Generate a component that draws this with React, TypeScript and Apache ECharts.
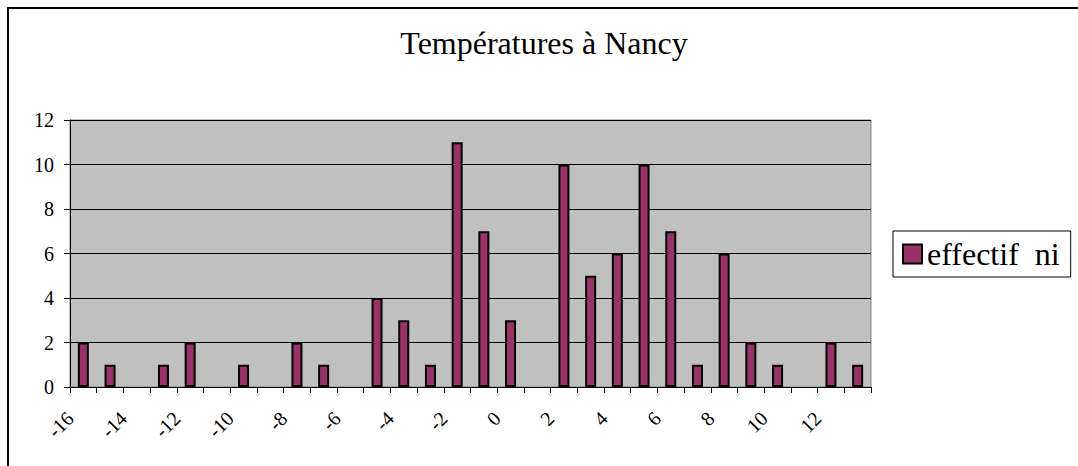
import React, { useEffect, useRef } from "react";
import * as echarts from "echarts";

const categories: string[] = [
  "-16", "-15", "-14", "-13", "-12", "-11", "-10", "-9", "-8", "-7",
  "-6", "-5", "-4", "-3", "-2", "-1", "0", "1", "2", "3",
  "4", "5", "6", "7", "8", "9", "10", "11", "12", "13",
];
const effectif: number[] = [
  2, 1, 0, 1, 2, 0, 1, 0, 2, 1,
  0, 4, 3, 1, 11, 7, 3, 0, 10, 5,
  6, 10, 7, 1, 6, 2, 1, 0, 2, 1,
];
const xTickLabels: number[] = [-16, -14, -12, -10, -8, -6, -4, -2, 0, 2, 4, 6, 8, 10, 12];
const yTicks = { min: 0, max: 12, interval: 2 };
const titleText = "Températures à Nancy";
const seriesName = "effectif  ni";

const FONT = "Liberation Serif";

export default function App() {
  const ref = useRef<HTMLDivElement>(null);
  useEffect(() => {
    if (!ref.current) return;
    const chart = echarts.init(ref.current, undefined, { renderer: "svg" });
    chart.setOption({
      animation: false,
      backgroundColor: "#ffffff",
      graphic: [
        {
          type: "rect",
          shape: { x: 8, y: 8, width: 1300, height: 700 },
          style: { fill: "none", stroke: "#000", lineWidth: 2 },
          silent: true,
          z: 100,
        },
        {
          type: "text",
          x: 544,
          y: 43,
          style: {
            text: titleText,
            fontFamily: FONT,
            fontSize: 32,
            fill: "#000",
            align: "center",
            verticalAlign: "middle",
          },
        },
      ],
      legend: {
        show: true,
        left: 893,
        top: 231,
        orient: "vertical",
        backgroundColor: "#fff",
        borderColor: "#000",
        borderWidth: 1,
        padding: [7, 11, 7, 9],
        itemWidth: 19,
        itemHeight: 19,
        icon: "rect",
        textStyle: { fontFamily: FONT, fontSize: 32, color: "#000", lineHeight: 31 },
        data: [seriesName],
      },
      grid: {
        left: 70,
        top: 120,
        width: 801,
        height: 267,
        show: true,
        backgroundColor: "#c0c0c0",
        borderColor: "#808080",
        borderWidth: 1,
      },
      xAxis: [
        {
          type: "category",
          data: categories,
          boundaryGap: true,
          axisLine: { show: true, onZero: false, lineStyle: { color: "#000", width: 1 } },
          axisTick: { show: true, length: 6, lineStyle: { color: "#000" }, interval: 0 },
          axisLabel: { show: false },
          splitLine: { show: false },
        },
        {
          type: "value",
          min: -16,
          max: 14,
          interval: 2,
          position: "bottom",
          axisLine: { show: false, onZero: false },
          axisTick: { show: false },
          splitLine: { show: false },
          axisLabel: {
            rotate: 45,
            margin: 28,
            fontFamily: FONT,
            fontSize: 20,
            color: "#000",
            formatter: (v: number) => (xTickLabels.indexOf(v) >= 0 ? String(v) : ""),
          },
        },
      ],
      yAxis: {
        type: "value",
        min: yTicks.min,
        max: yTicks.max,
        interval: yTicks.interval,
        axisLine: { show: true, onZero: false, lineStyle: { color: "#000", width: 1 } },
        axisTick: { show: true, length: 6, lineStyle: { color: "#000" } },
        axisLabel: { fontFamily: FONT, fontSize: 20, color: "#000", margin: 16 },
        splitLine: { show: true, lineStyle: { color: "#000", width: 1 } },
      },
      series: [
        {
          name: seriesName,
          type: "bar",
          xAxisIndex: 0,
          data: effectif.map((v) => (v === 0 ? null : v)),
          barWidth: 11,
          itemStyle: { color: "#993366", borderColor: "#000", borderWidth: 2 },
        },
      ],
    });
    return () => chart.dispose();
  }, []);
  return (
    <div
      ref={ref}
      style={{ position: "fixed", left: 0, top: 0, width: 1078, height: 466 }}
    />
  );
}
